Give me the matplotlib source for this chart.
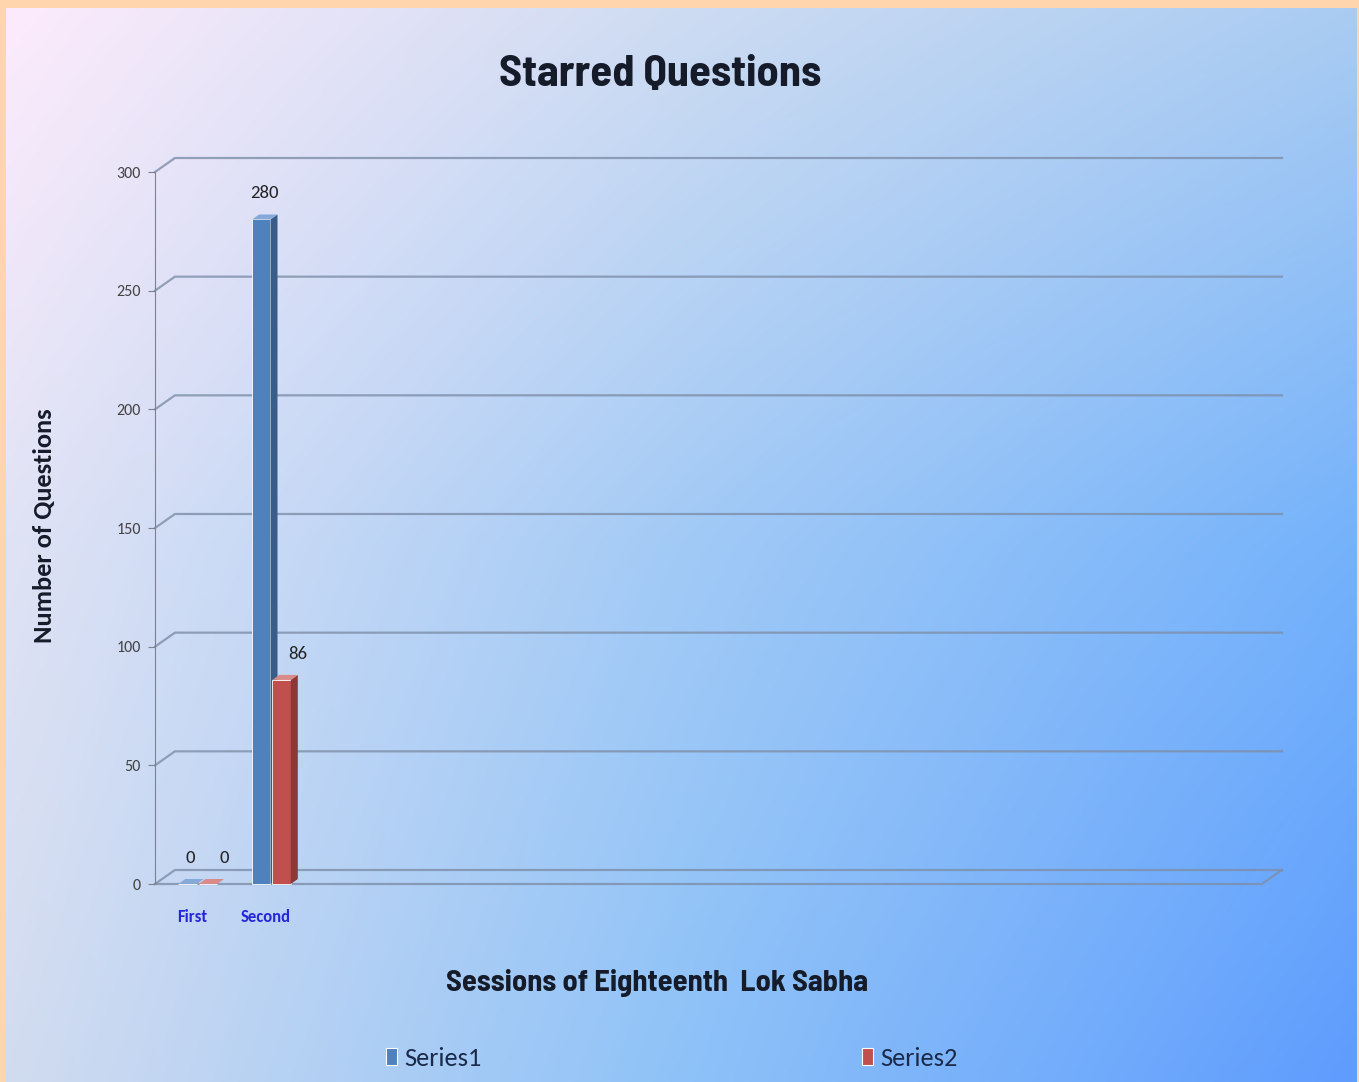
import numpy as np
import matplotlib.pyplot as plt
from matplotlib.patches import Polygon, Patch
from matplotlib.colors import to_rgb

sessions = ["First", "Second"]
series1 = [0, 280]
series2 = [0, 86]
yticks = [0, 50, 100, 150, 200, 250, 300]
n_slots = 15  # empty session slots on the axis

din = ['Barlow Semi Condensed', 'Barlow Condensed', 'Saira Semi Condensed', 'DejaVu Sans']
cal = ['Carlito', 'Open Sans', 'DejaVu Sans']

fig = plt.figure(figsize=(13.59, 10.82), dpi=100)
fig.patch.set_facecolor('#FFD5AE')

# background gradient
bg = fig.add_axes([6 / 1359, 0, 1351 / 1359, 1074 / 1082])
grid = np.array([[to_rgb('#FDEBFC'), to_rgb('#CEDCF2'), to_rgb('#AACCF2')],
                 [to_rgb('#E0E3F5'), to_rgb('#A2CAF6'), to_rgb('#74B2FB')],
                 [to_rgb('#D2DCF0'), to_rgb('#8EC2F8'), to_rgb('#5E9CFE')]])
bg.imshow(grid, interpolation='bilinear', aspect='auto', extent=[-0.25, 1.25, -0.25, 1.25])
bg.set_xlim(0, 1)
bg.set_ylim(0, 1)
bg.set_axis_off()

ax = fig.add_axes([155 / 1359, 1 - 884 / 1082, 1107 / 1359, 712 / 1082])
ax.set_facecolor('none')
ax.set_xlim(-0.5, n_slots - 0.5)
ax.set_ylim(0, 300)

# 3d back wall depth (data units)
wdx, wdy = 0.27, 5.9
x0, x1 = -0.5, n_slots - 0.5
gc = '#7d8ea8'
for y in yticks:
    ax.plot([x0, x0 + wdx, x1 + wdx], [y, y + wdy, y + wdy], color=gc, lw=1.6,
            alpha=0.8, clip_on=False, zorder=1)
ax.plot([x0, x1, x1 + wdx], [0, 0, wdy], color=gc, lw=1.6, alpha=0.8,
        clip_on=False, zorder=1)

# 3d bars
bw = 0.25
bdx, bdy = 0.095, 2.1
styles = [('#4F81BD', '#385D8A', '#86A9D8', -0.06),
          ('#C0504D', '#8C3836', '#DA8A88', 0.215)]


def bar3d(xc, h, front, side, top):
    xl, xr = xc - bw / 2, xc + bw / 2
    ax.add_patch(Polygon([(xl, 0), (xr, 0), (xr, h), (xl, h)], closed=True,
                         fc=front, ec='white', lw=0.6, zorder=3, clip_on=False))
    ax.add_patch(Polygon([(xr, 0), (xr + bdx, bdy), (xr + bdx, h + bdy), (xr, h)],
                         closed=True, fc=side, ec='none', zorder=3, clip_on=False))
    ax.add_patch(Polygon([(xl, h), (xr, h), (xr + bdx, h + bdy), (xl + bdx, h + bdy)],
                         closed=True, fc=top, ec='none', zorder=3, clip_on=False))


for vals, (front, side, top, off), loff in zip([series1, series2], styles, [0.04, 0.22]):
    for i, v in enumerate(vals):
        bar3d(i + off, v, front, side, top)
        ax.text(i + off + loff, v + 11, str(v), ha='center', va='center',
                fontsize=13.5, color='#222222', zorder=4, family=cal)

# axes styling
for s in ['top', 'right', 'bottom']:
    ax.spines[s].set_visible(False)
ax.spines['left'].set_color('#7d8090')
ax.set_yticks(yticks)
ax.set_yticklabels([str(t) for t in yticks], fontsize=11.5, color='#444444', family=cal)
ax.tick_params(axis='y', length=5, color='#7d8090', pad=5)
ax.set_xticks(range(len(sessions)))
ax.set_xticklabels(sessions, fontsize=12, color='#2626D9', fontweight='bold',
                   family=cal)
ax.tick_params(axis='x', length=0, pad=18)

fig.text(660 / 1359, 1 - 74 / 1082, "Starred Questions", ha='center', va='center',
         fontsize=32, fontweight='bold', color='#161B29', family=din)
fig.text(657 / 1359, 1 - 983 / 1082, "Sessions of Eighteenth  Lok Sabha",
         ha='center', va='center', fontsize=22, fontweight='bold',
         color='#161B29', family=din)
fig.text(45 / 1359, 1 - 526 / 1082, "Number of Questions", ha='center',
         va='center', rotation=90, fontsize=19, fontweight='bold',
         color='#161B29', family=cal)

for lbl, col, xl in [('Series1', '#4F81BD', 386), ('Series2', '#C0504D', 862)]:
    fig.legend([Patch(fc=col, ec='white', lw=0.8)], [lbl], loc='center left',
               bbox_to_anchor=(xl / 1359, 1 - 1058 / 1082), frameon=False,
               borderpad=0, borderaxespad=0, handlelength=0.42, handleheight=0.6,
               handletextpad=0.28, prop={'family': cal, 'size': 19},
               labelcolor='#1B2A4A')

fig.savefig('out.png', dpi=100, facecolor=fig.get_facecolor())
